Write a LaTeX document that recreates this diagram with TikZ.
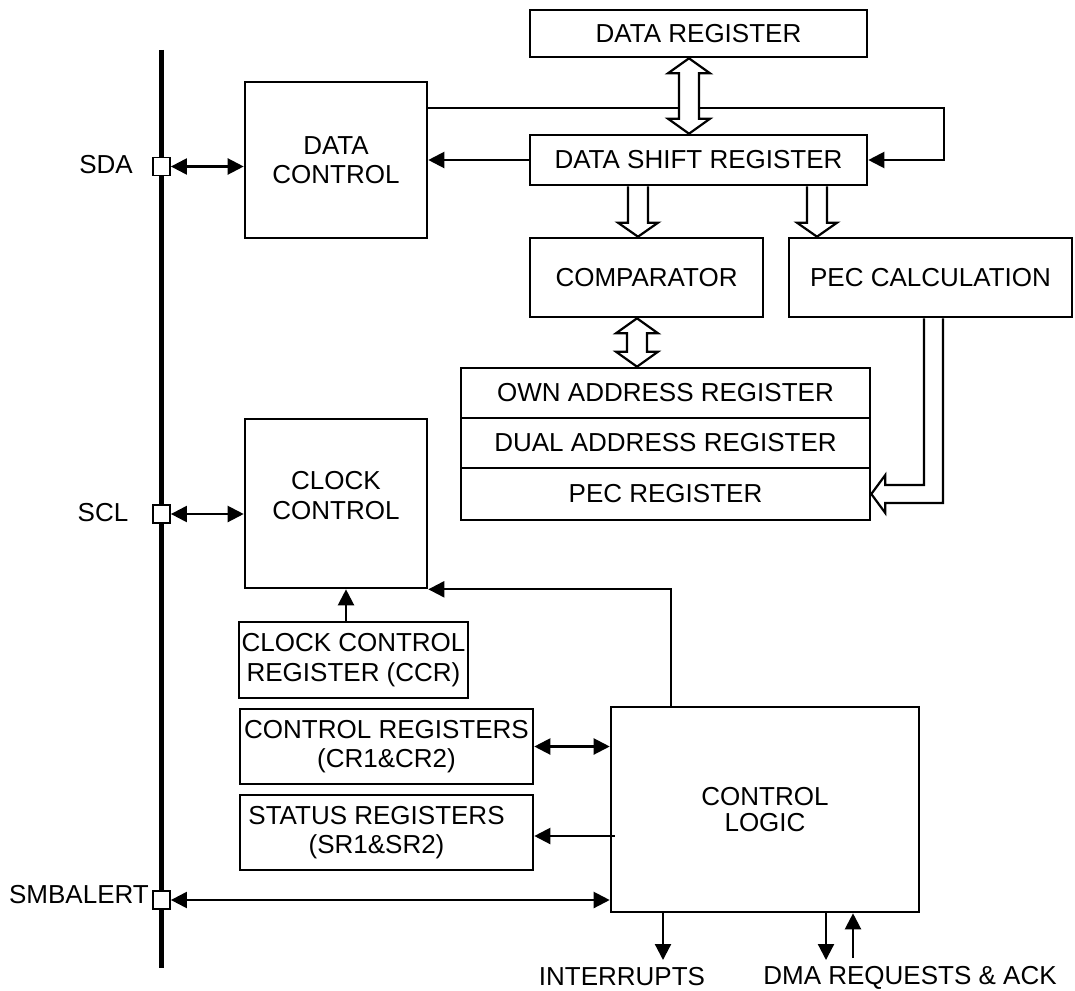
\documentclass[tikz,border=0pt]{standalone}
\usepackage{fontspec}
\setmainfont{Liberation Sans}
\usetikzlibrary{arrows.meta,calc}
\newcommand\hollowdbl[2]{%
 \draw[hollow] let \p1=(#1), \p2=(#2) in
 (\x1,\y1) -- (\x1-21pt,\y1-15pt) -- (\x1-10pt,\y1-15pt) -- (\x1-10pt,\y2+15pt) -- (\x1-21pt,\y2+15pt) -- (\x1,\y2) -- (\x1+21pt,\y2+15pt) -- (\x1+10pt,\y2+15pt) -- (\x1+10pt,\y1-15pt) -- (\x1+21pt,\y1-15pt) -- cycle;}
\newcommand\hollowdown[2]{%
 \draw[hollow] let \p1=(#1), \p2=(#2) in
 (\x1-10pt,\y1) -- (\x1-10pt,\y2+14pt) -- (\x1-20pt,\y2+14pt) -- (\x1,\y2) -- (\x1+20pt,\y2+14pt) -- (\x1+10pt,\y2+14pt) -- (\x1+10pt,\y1);}
\begin{document}
\begin{tikzpicture}[x=1pt,y=-1pt,
 box/.style={draw,line width=2.6pt,inner sep=0pt,align=center,font=\fontsize{26}{29.5}\selectfont},
 pin/.style={draw,fill=white,line width=1.8pt,minimum width=17pt,minimum height=18pt,inner sep=0pt},
 conn/.style={line width=2.2pt,-{Triangle[length=16pt,width=16pt]}},
 dconn/.style={line width=2.2pt,{Triangle[length=16pt,width=16pt]}-{Triangle[length=16pt,width=16pt]}},
 hollow/.style={line width=2.2pt,line join=miter,fill=white},
 lab/.style={inner sep=0pt,font=\fontsize{26}{29.5}\selectfont}]
\useasboundingbox (0,0) rectangle (1075,990);
% bus
\coordinate (bustop) at (161.5,50);
\coordinate (busbot) at (161.5,968);
\draw[line width=4.5pt] (bustop) -- (busbot);
% boxes
\node[box,minimum width=337pt,minimum height=47pt] (dreg) at (698.5,33.5) {DATA REGISTER};
\node[box,minimum width=337pt,minimum height=50pt] (dsr) at (698.5,160) {DATA SHIFT REGISTER};
\node[box,minimum width=182pt,minimum height=156pt] (dctl) at (336,160) {DATA\\CONTROL};
\node[box,minimum width=233pt,minimum height=79pt] (comp) at (646.5,277.5) {COMPARATOR};
\node[box,minimum width=283pt,minimum height=79pt] (pecc) at (930.5,277.5) {PEC CALCULATION};
\node[box,minimum width=409pt,minimum height=50pt] (own) at (665.5,393) {OWN ADDRESS REGISTER};
\node[box,minimum width=409pt,minimum height=50pt] (dual) at (665.5,443) {DUAL ADDRESS REGISTER};
\node[box,minimum width=409pt,minimum height=52pt] (pecr) at (665.5,494) {PEC REGISTER};
\node[box,minimum width=182pt,minimum height=169pt,label={[lab,align=center,yshift=8pt]center:CLOCK\\CONTROL}] (clk) at (336,503.5) {};
\node[box,minimum width=229pt,minimum height=76pt] (ccr) at (353.5,660) {CLOCK CONTROL\\REGISTER (CCR)};
\node[box,minimum width=293pt,minimum height=75pt] (cr) at (386.5,746.5) {CONTROL REGISTERS\\(CR1\&CR2)};
\node[box,minimum width=293pt,minimum height=75pt,label={[lab,align=center,xshift=-10pt]center:STATUS REGISTERS\\(SR1\&SR2)}] (sr) at (386.5,832.5) {};
\node[box,minimum width=308pt,minimum height=205pt,font=\fontsize{26}{26.5}\selectfont] (cl) at (765,809.5) {CONTROL\\LOGIC};
% pins
\node[pin] (sda) at (161.5,166.5) {};
\node[pin] (scl) at (161.5,514) {};
\node[pin] (smb) at (161.5,900) {};
% pin labels
\node[lab] (lsda) at (106,165) {SDA};
\node[lab] (lscl) at (103,513) {SCL};
\node[lab,anchor=east] (lsmb) at (149,895) {SMBALERT};
% connectors
\draw[dconn] (sda) -- (sda -| dctl.west);
\draw[conn] (dsr.west) -- (dctl.east);
\draw[conn] ([yshift=52pt]dctl.east) -- ++(516,0) |- (dsr.east);
\draw[dconn] (scl) -- (scl -| clk.west);
\coordinate (ccrtop) at ([xshift=-7.5pt]ccr.north);
\draw[conn] (ccrtop) -- (ccrtop |- clk.south);
\coordinate (cltop) at ([xshift=-94pt]cl.north);
\draw[conn] (cltop) |- (clk.south east);
\draw[dconn] (cr.east) -- (cr.east -| cl.west);
\coordinate (srin) at ($(sr.east -| cl.west)+(5,3.5)$);
\draw[conn] (srin) -- (srin -| sr.east);
\draw[dconn] (smb) -- (smb -| cl.west);
\coordinate (intend) at (663,960);
\draw[conn] (intend |- cl.south) -- (intend);
\coordinate (dmadn) at (826,960);
\draw[conn] (dmadn |- cl.south) -- (dmadn);
\coordinate (dmaup) at (853,958);
\draw[conn] (dmaup) -- (dmaup |- cl.south);
% hollow bus arrows
\coordinate (h1t) at ([xshift=-9.5pt]dreg.south);
\coordinate (h1b) at (h1t |- dsr.north);
\hollowdbl{h1t}{h1b}
\coordinate (h2t) at ([xshift=-60.5pt]dsr.south);
\coordinate (h2b) at (h2t |- comp.north);
\hollowdown{h2t}{h2b}
\coordinate (h3t) at ([xshift=118.5pt]dsr.south);
\coordinate (h3b) at (h3t |- pecc.north);
\hollowdown{h3t}{h3b}
\coordinate (h4t) at ([xshift=-9.5pt]comp.south);
\coordinate (h4b) at (h4t |- own.north);
\hollowdbl{h4t}{h4b}
\coordinate (h5t) at ([xshift=-6.5pt]pecc.south);
\draw[hollow] let \p1=(h5t), \p2=(pecr.east) in (\x1,\y1) -- (\x1,\y2+9pt) -- (\x2+14pt,\y2+9pt) -- (\x2+14pt,\y2+19pt) -- (\x2,\y2) -- (\x2+14pt,\y2-19pt) -- (\x2+14pt,\y2-9pt) -- (\x1+19pt,\y2-9pt) -- (\x1+19pt,\y1);
% bottom labels
\node[lab] (lint) at (622,977) {INTERRUPTS};
\node[lab] (ldma) at (910,978) {DMA REQUESTS \& ACK};
\end{tikzpicture}
\end{document}
